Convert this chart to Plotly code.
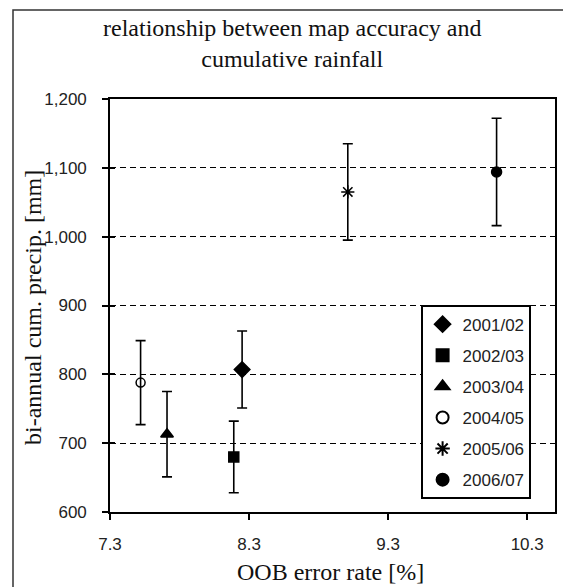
import plotly.graph_objects as go

# ---- data ----
seasons = ["2001/02", "2002/03", "2003/04", "2004/05", "2005/06", "2006/07"]
oob_error = [8.25, 8.19, 7.71, 7.52, 9.01, 10.08]
precip = [807, 680, 713, 788, 1065, 1094]
precip_err = [56, 52, 62, 61, 70, 78]
symbols = ["diamond", "square", "triangle-up", "circle-open", "asterisk-open", "circle"]
sizes = [12, 10, 11, 9, 11, 10]

x_ticks = [7.3, 8.3, 9.3, 10.3]
y_ticks = [600, 700, 800, 900, 1000, 1100, 1200]
y_range = [600, 1200]

title_text = "relationship between map accuracy and<br>cumulative rainfall"
x_title = "OOB error rate [%]"
y_title = "bi-annual cum. precip. [mm]"

# the page adds an 8px body margin, so the figure is drawn 8px smaller
OFF = 8
W, H = 571 - OFF, 587 - OFF
L, R, T, B = 110 - OFF, 571 - 555, 99 - OFF, 587 - 512

SERIF = "Liberation Serif"
SANS = "Liberation Sans"

fig = go.Figure()
for i, s in enumerate(seasons):
    fig.add_trace(go.Scatter(
        x=[oob_error[i]], y=[precip[i]], mode="markers", name=s,
        legendgroup=s,
        marker=dict(symbol=symbols[i], size=sizes[i], color="black",
                    line=dict(color="black", width=1.5)),
        error_y=dict(type="data", array=[precip_err[i]], color="black",
                     thickness=1.6, width=5),
    ))
# helper trace so the inner tick marks of the y axis are drawn
fig.add_trace(go.Scatter(x=[], y=[], yaxis="y2", showlegend=False, hoverinfo="skip"))

pw = W - L - R
ph = H - T - B
def px(xr):
    # reference-screenshot x pixel -> paper coordinate
    return (xr - OFF - L) / pw
def py(yr):
    return (H - B - (yr - OFF)) / ph

fig.update_layout(
    width=W, height=H,
    margin=dict(l=L, r=R, t=T, b=B, autoexpand=False),
    paper_bgcolor="white", plot_bgcolor="white",
    font=dict(family=SANS, size=17, color="#222"),
    xaxis=dict(range=[7.3, 10.5], tickvals=x_ticks, ticktext=[f"{v:.1f}" for v in x_ticks],
               showgrid=False, zeroline=False, showline=True, linecolor="black",
               linewidth=1.6, mirror=True, ticks="outside", ticklen=6,
               tickcolor="black", tickwidth=1.6, automargin=False,
               ticklabelstandoff=10,
               tickfont=dict(family=SANS, size=17, color="#222")),
    yaxis=dict(range=y_range, tickvals=y_ticks, tickformat=",",
               showgrid=True, gridcolor="black", gridwidth=1.2, griddash="6px,4px",
               zeroline=False, showline=True, linecolor="black",
               linewidth=1.6, mirror=True, ticks="outside", ticklen=6,
               tickcolor="black", tickwidth=1.6, automargin=False,
               ticklabelstandoff=12,
               tickfont=dict(family=SANS, size=17, color="#222")),
    yaxis2=dict(range=y_range, tickvals=y_ticks, overlaying="y", side="left",
                showgrid=False, zeroline=False, showline=False,
                ticks="inside", ticklen=5, tickcolor="black", tickwidth=1.6,
                showticklabels=False, automargin=False),
    legend=dict(x=px(421), y=py(305), xanchor="left", yanchor="top",
                bordercolor="black", borderwidth=1.6, bgcolor="white",
                font=dict(family=SANS, size=17, color="#222"),
                tracegroupgap=6, itemsizing="constant"),
    showlegend=True,
)

# chart title and axis titles
fig.add_annotation(text=title_text, xref="paper", yref="paper",
                   x=px(292), y=py(44), xanchor="center", yanchor="middle",
                   showarrow=False, font=dict(family=SERIF, size=24, color="#111"))
fig.add_annotation(text=x_title, xref="paper", yref="paper",
                   x=px(330), y=py(572), xanchor="center", yanchor="middle",
                   showarrow=False, font=dict(family=SERIF, size=24, color="#111"))
fig.add_annotation(text=y_title, xref="paper", yref="paper",
                   x=px(33), y=py(308), xanchor="center", yanchor="middle",
                   textangle=-90, showarrow=False,
                   font=dict(family=SERIF, size=24, color="#111"))

# outer chart-area border
fig.add_shape(type="rect", xref="paper", yref="paper",
              x0=px(13), x1=px(590), y0=py(600), y1=py(10),
              line=dict(color="#333", width=1.5), layer="below")

fig.write_html("out.html")
